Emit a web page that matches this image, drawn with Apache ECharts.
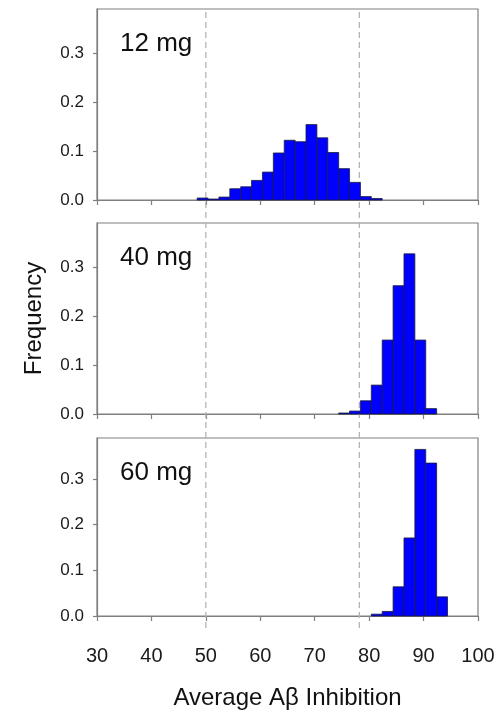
<!DOCTYPE html>
<html>
<head>
<meta charset="utf-8">
<script src="https://cdn.jsdelivr.net/npm/echarts@6/dist/echarts.min.js"></script>
<style>
html, body { margin: 0; padding: 0; background: #fff; }
#main { width: 502px; height: 711px; }
</style>
</head>
<body>
<div id="main"></div>
<script>
// panel names
var doses = ['12 mg', '40 mg', '60 mg'];

// bin edges (Average Abeta inhibition, %)
var edges12 = [48.4, 50.4, 52.4, 54.4, 56.4, 58.4, 60.4, 62.4, 64.4, 66.4, 68.4, 70.4, 72.4, 74.4, 76.4, 78.4, 80.4, 82.4];
var edges40 = [74.4, 76.4, 78.4, 80.4, 82.4, 84.4, 86.4, 88.4, 90.4, 92.4];
var edges60 = [80.4, 82.4, 84.4, 86.4, 88.4, 90.4, 92.4, 94.4];

// frequencies, one per bin
var freq12 = [0.004, 0.002, 0.006, 0.023, 0.027, 0.040, 0.057, 0.096, 0.122, 0.119, 0.154, 0.127, 0.097, 0.064, 0.036, 0.007, 0.003];
var freq40 = [0.002, 0.006, 0.027, 0.059, 0.151, 0.262, 0.327, 0.151, 0.011];
var freq60 = [0.004, 0.010, 0.064, 0.171, 0.365, 0.335, 0.042];

// reference lines (dashed)
var refLines = [50, 78.2];

// tick values
var xTicks = [30, 40, 50, 60, 70, 80, 90, 100];
var yTicks = [0, 0.1, 0.2, 0.3];

var FONT = 'Liberation Sans, Arial, sans-serif';
var AXIS_COLOR = '#7f7f7f';

//把边界和频率拼成 [左, 右, 值]
function toBins(edges, freq) {
	var out = [];
	for (var i = 0; i < freq.length; i++) {
		out.push([edges[i], edges[i + 1], freq[i]]);
	}
	return out;
}

function renderBar(params, api) {
	var p0 = api.coord([api.value(0), api.value(2)]);
	var p1 = api.coord([api.value(1), 0]);
	return {
		type: 'rect',
		shape: { x: p0[0], y: p0[1], width: p1[0] - p0[0], height: p1[1] - p0[1] },
		style: { fill: '#0000ff', stroke: '#1a1a3a', lineWidth: 0.8 }
	};
}

function renderRef(params, api) {
	var p0 = api.coord([api.value(0), 0]);
	var p1 = api.coord([api.value(0), 1]);
	return {
		type: 'line',
		shape: { x1: p0[0], y1: p0[1], x2: p1[0], y2: p1[1] },
		style: { stroke: '#b4b4b4', lineWidth: 1.3, lineDash: [6, 4] }
	};
}

var tops = [9, 223, 438];
var panelH = 191;
var grids = [], xAxes = [], yAxes = [], series = [], titles = [];
var allBins = [toBins(edges12, freq12), toBins(edges40, freq40), toBins(edges60, freq60)];

for (var i = 0; i < 3; i++) {
	grids.push({
		left: 97, right: 24, top: tops[i], height: panelH,
		show: true, borderColor: AXIS_COLOR, borderWidth: 1.2, backgroundColor: 'transparent'
	});
	xAxes.push({
		type: 'value', gridIndex: i, min: 30, max: 100, interval: 10,
		splitLine: { show: false },
		axisLine: { show: true, lineStyle: { color: AXIS_COLOR, width: 1.2 } },
		axisTick: { show: true, length: 5, lineStyle: { color: AXIS_COLOR, width: 1.2 }, customValues: xTicks },
		axisLabel: {
			show: i == 2, margin: 30, fontSize: 20, color: '#1a1a1a', fontFamily: FONT,
			customValues: xTicks
		},
		name: i == 2 ? 'Average A\u03b2 Inhibition' : '',
		nameLocation: 'middle', nameGap: 70,
		nameTextStyle: { fontSize: 24, color: '#111', fontFamily: FONT }
	});
	yAxes.push({
		type: 'value', gridIndex: i, min: 0, max: 0.39,
		splitLine: { show: false },
		axisLine: { show: true, lineStyle: { color: AXIS_COLOR, width: 1.2 } },
		axisTick: { show: true, length: 4, lineStyle: { color: AXIS_COLOR, width: 1.2 }, customValues: yTicks },
		axisLabel: {
			margin: 13, fontSize: 17, color: '#1a1a1a', fontFamily: FONT,
			customValues: yTicks,
			formatter: function (v) { return v.toFixed(1); }
		},
		name: i == 1 ? 'Frequency' : '',
		nameLocation: 'middle', nameGap: 51, nameRotate: 90,
		nameTextStyle: { fontSize: 24, color: '#111', fontFamily: FONT }
	});
	series.push({
		type: 'custom', xAxisIndex: i, yAxisIndex: i,
		renderItem: renderBar,
		encode: { x: [0, 1], y: 2 },
		data: allBins[i],
		z: 2
	});
	titles.push({
		text: doses[i], left: 120, top: tops[i] + 22, padding: 0,
		textStyle: { fontSize: 26, fontWeight: 'normal', color: '#111', fontFamily: FONT }
	});
}

// 覆盖三个面板的隐藏坐标系，画虚线
grids.push({ left: 97, right: 24, top: 9, height: 619 });
xAxes.push({ type: 'value', gridIndex: 3, min: 30, max: 100, show: false });
yAxes.push({ type: 'value', gridIndex: 3, min: 0, max: 1, show: false });
series.push({
	type: 'custom', xAxisIndex: 3, yAxisIndex: 3,
	renderItem: renderRef,
	encode: { x: 0 },
	data: refLines.map(function (v) { return [v]; }),
	z: 1
});

var myChart = echarts.init(document.getElementById('main'));
myChart.setOption({
	animation: false,
	title: titles,
	grid: grids,
	xAxis: xAxes,
	yAxis: yAxes,
	series: series
});
</script>
</body>
</html>
